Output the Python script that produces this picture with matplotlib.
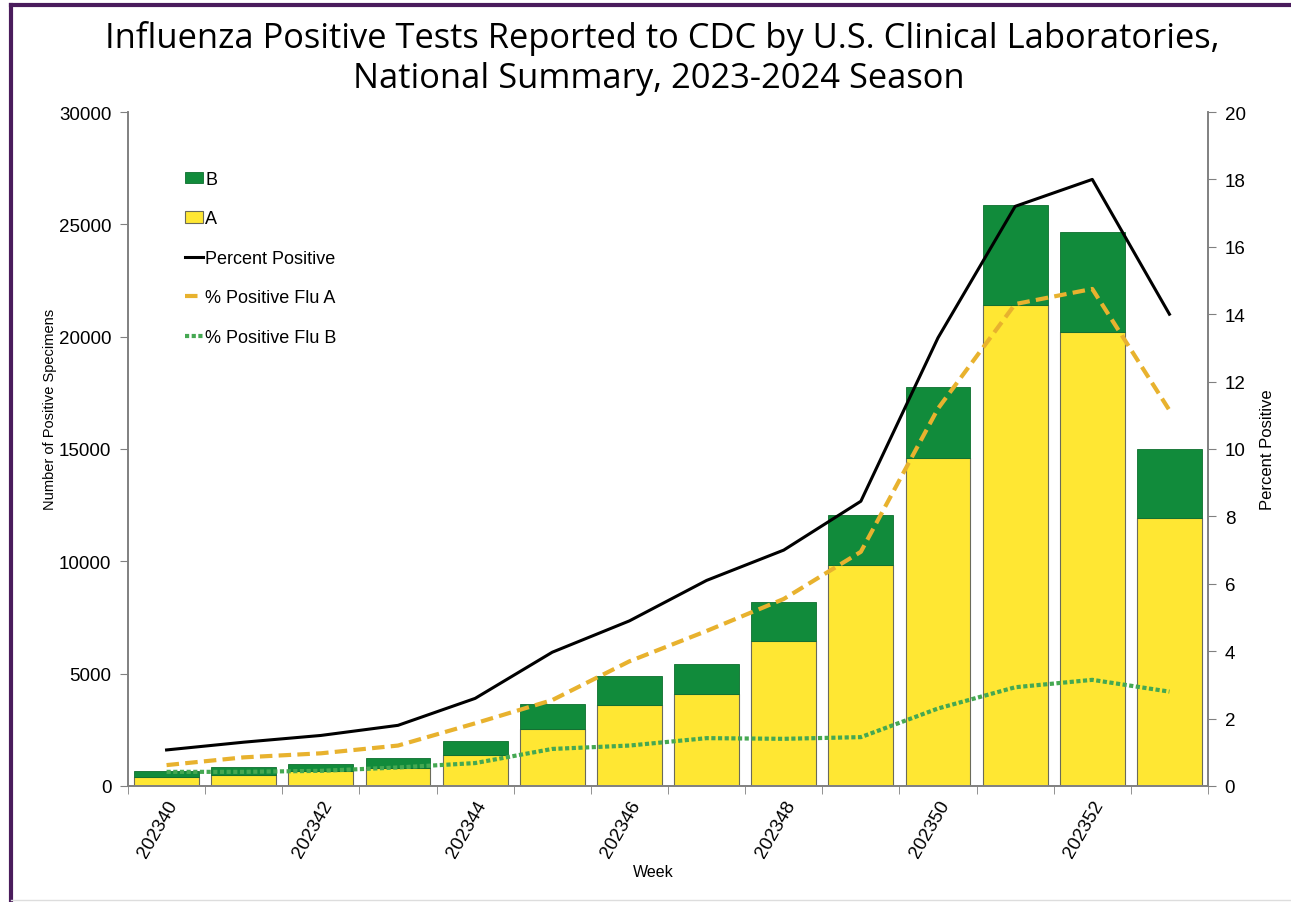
import numpy as np
import matplotlib
matplotlib.use("Agg")
import matplotlib.pyplot as plt
from matplotlib.lines import Line2D

weeks = ["202340", "202341", "202342", "202343", "202344", "202345", "202346",
         "202347", "202348", "202349", "202350", "202351", "202352", "202353"]
flu_a = [400, 500, 650, 800, 1380, 2540, 3600, 4100, 6450, 9850, 14600, 21400, 20200, 11930]
flu_b = [270, 350, 330, 450, 620, 1110, 1300, 1330, 1750, 2200, 3160, 4460, 4460, 3070]
pct_pos = [1.07, 1.3, 1.5, 1.8, 2.6, 3.97, 4.9, 6.1, 7.0, 8.45, 13.3, 17.2, 18.0, 14.0]
pct_a = [0.62, 0.85, 0.97, 1.2, 1.86, 2.55, 3.7, 4.6, 5.55, 6.95, 11.2, 14.3, 14.75, 11.15]
pct_b = [0.42, 0.42, 0.45, 0.55, 0.68, 1.1, 1.2, 1.42, 1.4, 1.45, 2.3, 2.93, 3.15, 2.8]

plt.rcParams["font.family"] = ["Liberation Sans", "DejaVu Sans"]

fig = plt.figure(figsize=(12.91, 9.03), dpi=100)
ax = fig.add_axes([128 / 1291, 116 / 903, 1080 / 1291, 674 / 903])
ax2 = ax.twinx()

x = np.arange(len(weeks))
grey = "#808080"
ax.bar(x, flu_a, width=0.84, color="#FFE733", edgecolor="#6b6b5a", linewidth=0.8, label="A")
ax.bar(x, flu_b, width=0.84, bottom=flu_a, color="#118B3B", edgecolor="#0d6e2e",
       linewidth=0.6, label="B")

ax2.plot(x, pct_pos, color="black", lw=2.2, label="Percent Positive")
ax2.plot(x, pct_a, color="#E8B22E", lw=3, ls=(0, (3, 1.5)), label="% Positive Flu A")
ax2.plot(x, pct_b, color="#45A852", lw=3, ls=(0, (1, 0.6)), label="% Positive Flu B")

ax.set_xlim(-0.5, len(weeks) - 0.5)
ax.set_ylim(0, 30000)
ax2.set_ylim(0, 20)
ax.set_yticks(range(0, 30001, 5000))
ax2.set_yticks(range(0, 21, 2))

ax.set_xticks(x[::2])
ax.set_xticklabels(weeks[::2], rotation=60, ha="right", va="top", rotation_mode="anchor")
ax.set_xticks(np.arange(-0.5, len(weeks)), minor=True)
ax.tick_params(axis="x", which="major", length=0, labelsize=13.5, pad=8)
ax.tick_params(axis="x", which="minor", length=6, color=grey, direction="out")
ax.tick_params(axis="y", length=6, color=grey, labelsize=13.5, pad=6)
ax2.tick_params(axis="y", length=6, color=grey, labelsize=13.5, pad=6)

for a in (ax, ax2):
    a.spines["top"].set_visible(False)
    for s in ("left", "right", "bottom"):
        a.spines[s].set_color(grey)
        a.spines[s].set_linewidth(1.2)

ax.set_xlabel("Week", fontsize=11.5)
ax.xaxis.set_label_coords(0.486, -0.116)
ax.set_ylabel("Number of Positive Specimens", fontsize=10.5)
ax.yaxis.set_label_coords(-0.066, 0.56)
ax2.set_ylabel("Percent Positive", fontsize=12, labelpad=10)

handles = [ax.patches[len(weeks)], ax.patches[0]] + ax2.get_lines()
labels = ["B", "A", "Percent Positive", "% Positive Flu A", "% Positive Flu B"]
leg = ax.legend(handles, labels, loc="upper left", bbox_to_anchor=(0.038, 0.937),
                frameon=False, fontsize=13, handlelength=1.0, handletextpad=0.1,
                labelspacing=1.25, handleheight=0.6)

title_font = ["Open Sans", "DejaVu Sans"]
fig.text(0.513, 0.957, "Influenza Positive Tests Reported to CDC by U.S. Clinical Laboratories,",
         ha="center", va="center", fontsize=24.8, family=title_font)
fig.text(0.51, 0.912, "National Summary, 2023-2024 Season",
         ha="center", va="center", fontsize=24.8, family=title_font)

purple = "#4A1C5C"
fig.add_artist(Line2D([11 / 1291, 11 / 1291], [0, 1 - 6 / 903], color=purple, lw=3))
fig.add_artist(Line2D([11 / 1291, 1], [1 - 6 / 903, 1 - 6 / 903], color=purple, lw=3))
fig.add_artist(Line2D([11 / 1291, 1], [2 / 903, 2 / 903], color="#dddddd", lw=1))

fig.savefig("out.png", dpi=100)
